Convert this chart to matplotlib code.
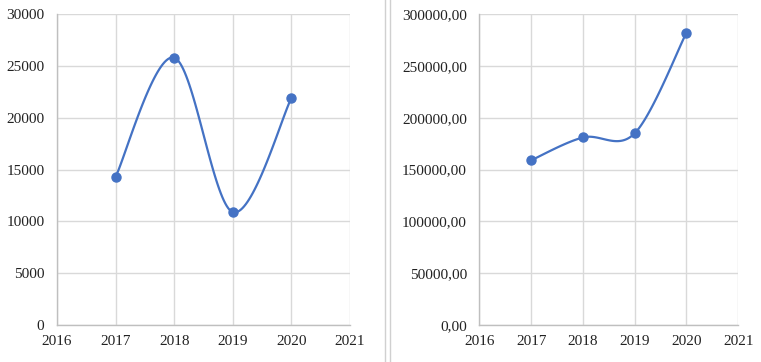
import matplotlib
matplotlib.use('Agg')
import matplotlib.pyplot as plt
import numpy as np
from matplotlib.lines import Line2D
from matplotlib.ticker import FuncFormatter

# data
years = [2017, 2018, 2019, 2020]
left_values = [14300, 25800, 10900, 21900]
right_values = [159000, 181000, 185000, 282000]

blue = '#4472C4'
grid_col = '#d9d9d9'
spine_col = '#bfbfbf'

plt.rcParams['font.family'] = ['Liberation Serif', 'DejaVu Serif']


def smooth(xs, ys, n=40):
    # Catmull-Rom style curve through the points (like a smoothed spreadsheet line)
    p = np.column_stack([xs, ys]).astype(float)
    pts = np.vstack([p[0], p, p[-1]])
    out = []
    for i in range(1, len(pts) - 2):
        p0, p1, p2, p3 = pts[i - 1], pts[i], pts[i + 1], pts[i + 2]
        c1 = p1 + (p2 - p0) / 6
        c2 = p2 - (p3 - p1) / 6
        t = np.linspace(0, 1, n)[:, None]
        seg = ((1 - t) ** 3 * p1 + 3 * (1 - t) ** 2 * t * c1
               + 3 * (1 - t) * t ** 2 * c2 + t ** 3 * p2)
        out.append(seg if i == 1 else seg[1:])
    out = np.vstack(out)
    return out[:, 0], out[:, 1]


def style(ax, ymax, step):
    ax.set_xlim(2016, 2021)
    ax.set_ylim(0, ymax)
    ax.set_xticks(range(2016, 2022))
    ax.set_yticks(np.arange(0, ymax + 1, step))
    ax.grid(True, color=grid_col, linewidth=1)
    ax.set_axisbelow(True)
    for s in ['top', 'right']:
        ax.spines[s].set_visible(False)
    for s in ['left', 'bottom']:
        ax.spines[s].set_color(spine_col)
        ax.spines[s].set_linewidth(1)
    ax.tick_params(length=0, labelsize=11, colors='#222222')
    ax.tick_params(axis='x', pad=7)
    ax.tick_params(axis='y', pad=9)


fig = plt.figure(figsize=(7.61, 3.62), dpi=100)
ax1 = fig.add_axes([0.0749, 0.102, 0.385, 0.859])
ax2 = fig.add_axes([0.630, 0.102, 0.340, 0.859])

sx, sy = smooth(years, left_values)
ax1.plot(sx, sy, color=blue, linewidth=1.6, zorder=3)
ax1.plot(years, left_values, 'o', color=blue, markersize=6.5, zorder=4)
style(ax1, 30000, 5000)

sx, sy = smooth(years, right_values)
ax2.plot(sx, sy, color=blue, linewidth=1.6, zorder=3)
ax2.plot(years, right_values, 'o', color=blue, markersize=6.5, zorder=4)
style(ax2, 300000, 50000)
ax2.yaxis.set_major_formatter(FuncFormatter(lambda v, _: f'{v:.2f}'.replace('.', ',')))

# frame borders between the two charts
for xpx in (385, 390):
    fig.add_artist(Line2D([xpx / 761, xpx / 761], [0, 1], color='#d0d0d0', linewidth=1))

fig.savefig('out.png', dpi=100)
